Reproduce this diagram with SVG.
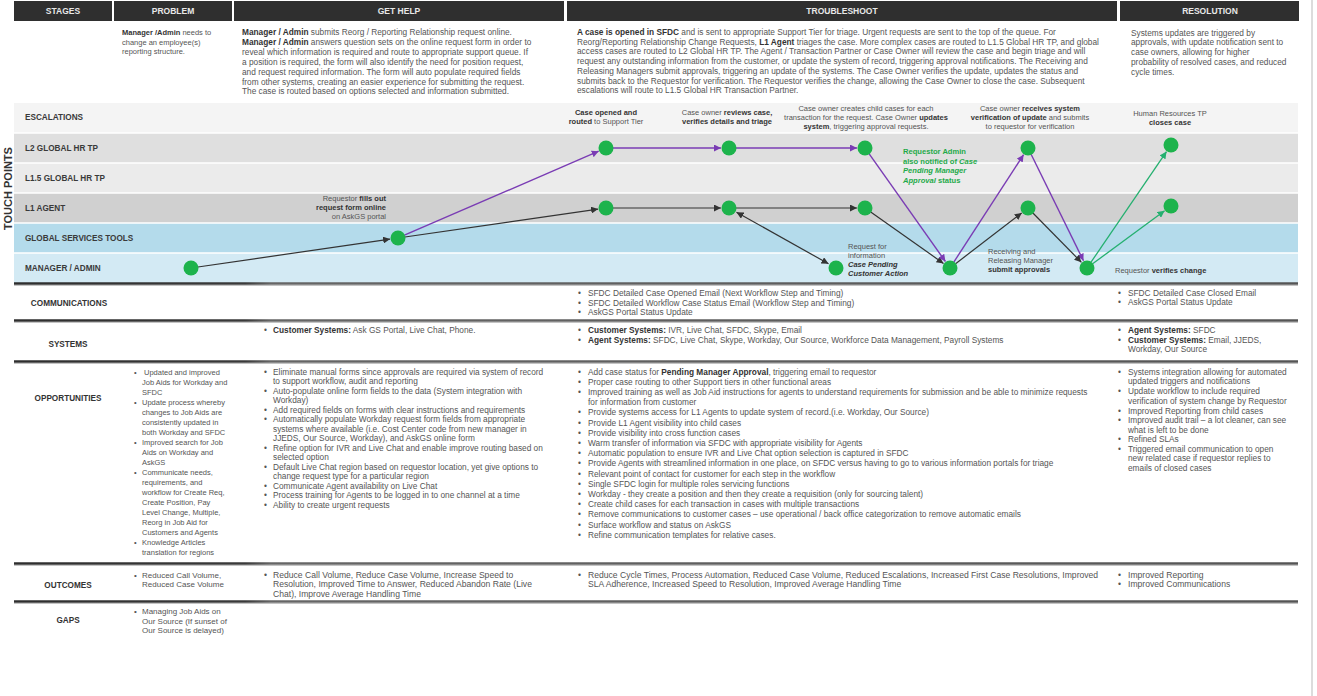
<svg xmlns="http://www.w3.org/2000/svg" width="1317" height="696" viewBox="0 0 1317 696">
<style>
text{font-family:"Liberation Sans",Arial,sans-serif;}
.t{font-size:8.3px;fill:#555}
.s{font-size:7.5px;fill:#555}
.b{font-weight:bold;fill:#333}
.i{font-style:italic}
.hd{font-size:8.5px;font-weight:bold;fill:#e8e8e8;text-anchor:middle}
.lane{font-size:8.2px;font-weight:bold;fill:#3a3a3a}
.row{font-size:8.2px;font-weight:bold;fill:#333;text-anchor:middle}
.c{text-anchor:middle}
.r{text-anchor:end}
.g{font-size:7.6px;font-weight:bold;fill:#1faa4a}
.o{font-size:8.6px;fill:#555}
.o2{font-size:8px;fill:#555}
.node{fill:#1db34c}
.k{stroke:#333;stroke-width:1.2;fill:none}
.p{stroke:#7a3cb4;stroke-width:1.4;fill:none}
.gr{stroke:#25b070;stroke-width:1.3;fill:none}
.div{stroke:url(#dg);stroke-width:2.4}
.div2{stroke:#c4c4c4;stroke-width:1}
</style>
<defs>
<marker id="ak" markerUnits="userSpaceOnUse" markerWidth="8" markerHeight="7" refX="7" refY="3.5" orient="auto-start-reverse"><path d="M0,0 L7,3.5 L0,7 z" fill="#333"/></marker>
<marker id="ap" markerUnits="userSpaceOnUse" markerWidth="8" markerHeight="7" refX="7" refY="3.5" orient="auto"><path d="M0,0 L7,3.5 L0,7 z" fill="#7a3cb4"/></marker>
<marker id="ag" markerUnits="userSpaceOnUse" markerWidth="8" markerHeight="7" refX="7" refY="3.5" orient="auto"><path d="M0,0 L7,3.5 L0,7 z" fill="#25b070"/></marker>
<linearGradient id="dg" gradientUnits="userSpaceOnUse" x1="14" y1="0" x2="1298" y2="0"><stop offset="0" stop-color="#2e2e2e"/><stop offset="0.18" stop-color="#3a3a3a"/><stop offset="0.2" stop-color="#666"/><stop offset="1" stop-color="#555"/></linearGradient>
</defs>

<rect width="1317" height="696" fill="#fff"/>
<line x1="1312" y1="0" x2="1312" y2="696" stroke="#d0d0d0" stroke-width="1.5"/>

<!-- header -->
<g id="header">
<rect x="14" y="1" width="98" height="20" fill="#2f2f2f"/>
<rect x="114" y="1" width="118" height="20" fill="#2f2f2f"/>
<rect x="234" y="1" width="330" height="20" fill="#2f2f2f"/>
<rect x="567" y="1" width="550" height="20" fill="#2f2f2f"/>
<rect x="1120" y="1" width="179" height="20" fill="#2f2f2f"/>
<text class="hd" x="63" y="14">STAGES</text>
<text class="hd" x="173" y="14">PROBLEM</text>
<text class="hd" x="399" y="14">GET HELP</text>
<text class="hd" x="842" y="14">TROUBLESHOOT</text>
<text class="hd" x="1210" y="14">RESOLUTION</text>
</g>

<!-- intro texts -->
<g id="intro">
<text class="s" x="122" y="35"><tspan class="b">Manager /Admin</tspan> needs to</text>
<text class="s" x="122" y="44.5">change an employee(s)</text>
<text class="s" x="122" y="54">reporting structure.</text>

<text class="t" x="242" y="35"><tspan class="b">Manager / Admin</tspan> submits Reorg / Reporting Relationship request online.</text>
<text class="t" x="242" y="45"><tspan class="b">Manager / Admin</tspan> answers question sets on the online request form in order to</text>
<text class="t" x="242" y="55">reveal which information is required and route to appropriate support queue. If</text>
<text class="t" x="242" y="65">a position is required, the form will also identify the need for position request,</text>
<text class="t" x="242" y="75">and request required information. The form will auto populate required fields</text>
<text class="t" x="242" y="84.5">from other systems, creating an easier experience for submitting the request.</text>
<text class="t" x="242" y="94">The case is routed based on options selected and information submitted.</text>

<text class="t" x="577" y="35"><tspan class="b">A case is opened in SFDC</tspan> and is sent to appropriate Support Tier for triage. Urgent requests are sent to the top of the queue. For</text>
<text class="t" x="577" y="44.5">Reorg/Reporting Relationship Change Requests, <tspan class="b">L1 Agent</tspan> triages the case. More complex cases are routed to L1.5 Global HR TP, and global</text>
<text class="t" x="577" y="54">access cases are routed to L2 Global HR TP. The Agent / Transaction Partner or Case Owner will review the case and begin triage and will</text>
<text class="t" x="577" y="64">request any outstanding information from the customer, or update the system of record, triggering approval notifications. The Receiving and</text>
<text class="t" x="577" y="74">Releasing Managers submit approvals, triggering an update of the systems. The Case Owner verifies the update, updates the status and</text>
<text class="t" x="577" y="83.5">submits back to the Requestor for verification. The Requestor verifies the change, allowing the Case Owner to close the case. Subsequent</text>
<text class="t" x="577" y="93">escalations will route to L1.5 Global HR Transaction Partner.</text>

<text class="t" x="1131" y="35.5">Systems updates are triggered by</text>
<text class="t" x="1131" y="45">approvals, with update notification sent to</text>
<text class="t" x="1131" y="54.5">case owners, allowing for higher</text>
<text class="t" x="1131" y="64.5">probability of resolved cases, and reduced</text>
<text class="t" x="1131" y="75">cycle times.</text>
</g>

<!-- lanes -->
<g id="lanes">
<rect x="14" y="103" width="1284" height="30" fill="#f4f4f4"/>
<rect x="14" y="133" width="1284" height="30" fill="#dfdfdf"/>
<rect x="14" y="163" width="1284" height="30" fill="#ebebeb"/>
<rect x="14" y="193" width="1284" height="30" fill="#d0d0d0"/>
<rect x="14" y="223" width="1284" height="30" fill="#b4dbeb"/>
<rect x="14" y="253" width="1284" height="30" fill="#d3eaf4"/>
<g stroke="#fff" stroke-width="1.3">
<line x1="14" y1="133" x2="1298" y2="133"/>
<line x1="14" y1="163" x2="1298" y2="163"/>
<line x1="14" y1="193" x2="1298" y2="193"/>
<line x1="14" y1="223" x2="1298" y2="223"/>
<line x1="14" y1="253" x2="1298" y2="253"/>
</g>
<text class="lane" x="25" y="120">ESCALATIONS</text>
<text class="lane" x="25" y="151">L2 GLOBAL HR TP</text>
<text class="lane" x="25" y="181">L1.5 GLOBAL HR TP</text>
<text class="lane" x="25" y="211">L1 AGENT</text>
<text class="lane" x="25" y="241">GLOBAL SERVICES TOOLS</text>
<text class="lane" x="25" y="271">MANAGER / ADMIN</text>
<text x="11.5" y="188.5" transform="rotate(-90 11.5 188.5)" text-anchor="middle" font-size="11" font-weight="bold" fill="#333">TOUCH POINTS</text>
</g>

<!-- connectors -->
<g id="connectors">
<line class="k" x1="197.9" y1="267" x2="390.1" y2="239.1" marker-end="url(#ak)"/>
<line class="p" x1="404.4" y1="235.2" x2="598.7" y2="151.2" marker-end="url(#ap)"/>
<line class="k" x1="404.9" y1="237" x2="598.1" y2="209.1" marker-end="url(#ak)"/>
<line class="p" x1="613" y1="148" x2="721" y2="148" marker-end="url(#ap)"/>
<line class="p" x1="736" y1="148" x2="857" y2="148" marker-end="url(#ap)"/>
<line class="k" x1="613" y1="208" x2="721" y2="208" marker-end="url(#ak)"/>
<line class="k" x1="736" y1="208" x2="857" y2="208" marker-end="url(#ak)"/>
<line class="k" x1="736.5" y1="212.2" x2="828.5" y2="263.8" marker-start="url(#ak)" marker-end="url(#ak)"/>
<line class="k" x1="870.7" y1="212" x2="943.5" y2="263.4" marker-end="url(#ak)"/>
<line class="p" x1="869" y1="153.7" x2="945.4" y2="261.5" marker-end="url(#ap)"/>
<line class="p" x1="953.8" y1="262.1" x2="1023.6" y2="154.7" marker-end="url(#ap)"/>
<line class="k" x1="955.6" y1="263.7" x2="1021.7" y2="212.9" marker-end="url(#ak)"/>
<line class="p" x1="1031.1" y1="154.3" x2="1083.5" y2="260.8" marker-end="url(#ap)"/>
<line class="k" x1="1032.9" y1="213" x2="1081.4" y2="262.3" marker-end="url(#ak)"/>
<line class="gr" x1="1091" y1="262.2" x2="1166.5" y2="151.6" marker-end="url(#ag)"/>
<line class="gr" x1="1092.6" y1="263.8" x2="1164.6" y2="210.8" marker-end="url(#ag)"/>
</g>

<!-- nodes -->
<g id="n-manager"><circle class="node" cx="191" cy="268" r="7.5"/></g>
<g id="n-tools"><circle class="node" cx="398" cy="238" r="7.5"/>
<text class="s r" x="386" y="200.5">Requestor <tspan class="b">fills out</tspan></text>
<text class="s r b" x="386" y="209.5">request form online</text>
<text class="s r" x="386" y="218.5">on AskGS portal</text></g>
<g id="n-open"><circle class="node" cx="606" cy="148" r="7.5"/><circle class="node" cx="606" cy="208" r="7.5"/>
<text class="s c b" x="606" y="114.5">Case opened and</text>
<text class="s c" x="606" y="123.5"><tspan class="b">routed</tspan> to Support Tier</text></g>
<g id="n-review"><circle class="node" cx="729" cy="148" r="7.5"/><circle class="node" cx="729" cy="208" r="7.5"/>
<text class="s c" x="727" y="114.5">Case owner <tspan class="b">reviews case,</tspan></text>
<text class="s c b" x="727" y="123.5">verifies details and triage</text></g>
<g id="n-child"><circle class="node" cx="865" cy="148" r="7.5"/><circle class="node" cx="865" cy="208" r="7.5"/>
<text class="s c" x="866" y="110.5">Case owner creates child cases for each</text>
<text class="s c" x="866" y="119.5">transaction for the request. Case Owner <tspan class="b">updates</tspan></text>
<text class="s c" x="866" y="128.5"><tspan class="b">system</tspan>, triggering approval requests.</text></g>
<g id="n-pending"><circle class="node" cx="836" cy="268" r="7.5"/>
<text class="s" x="848" y="248.5">Request for</text>
<text class="s" x="848" y="257.5">information</text>
<text class="s b i" x="848" y="266.5">Case Pending</text>
<text class="s b i" x="848" y="275.5">Customer Action</text></g>
<g id="n-approve"><circle class="node" cx="950" cy="268" r="7.5"/>
<text class="g" x="903" y="154">Requestor Admin</text>
<text class="g" x="903" y="163.5">also notified of <tspan class="i">Case</tspan></text>
<text class="g i" x="903" y="173">Pending Manager</text>
<text class="g" x="903" y="182.5"><tspan class="i">Approval</tspan> status</text>
<text class="s" x="988" y="253.5">Receiving and</text>
<text class="s" x="988" y="262.5">Releasing Manager</text>
<text class="s b" x="988" y="271.5">submit approvals</text></g>
<g id="n-verify"><circle class="node" cx="1028" cy="148" r="7.5"/><circle class="node" cx="1028" cy="208" r="7.5"/>
<text class="s c" x="1030" y="110.5">Case owner <tspan class="b">receives system</tspan></text>
<text class="s c" x="1030" y="119.5"><tspan class="b">verification of update</tspan> and submits</text>
<text class="s c" x="1030" y="128.5">to requestor for verification</text></g>
<g id="n-requestor"><circle class="node" cx="1087" cy="268" r="7.5"/>
<text class="s" x="1115" y="272.5">Requestor <tspan class="b">verifies change</tspan></text></g>
<g id="n-close"><circle class="node" cx="1171" cy="145" r="7.5"/><circle class="node" cx="1171" cy="206" r="7.5"/>
<text class="s c" x="1170" y="115.5">Human Resources TP</text>
<text class="s c b" x="1170" y="124.5">closes case</text></g>

<!-- dividers -->
<g id="dividers">
<line class="div" x1="14" y1="283.5" x2="1298" y2="283.5"/>
<line class="div2" x1="14" y1="285.5" x2="1298" y2="285.5"/>
<line class="div" x1="14" y1="320.5" x2="1298" y2="320.5"/>
<line class="div2" x1="14" y1="322.5" x2="1298" y2="322.5"/>
<line class="div" x1="14" y1="361.5" x2="1298" y2="361.5"/>
<line class="div2" x1="14" y1="363.5" x2="1298" y2="363.5"/>
<line class="div" x1="14" y1="563.5" x2="1298" y2="563.5"/>
<line class="div2" x1="14" y1="565.5" x2="1298" y2="565.5"/>
<line class="div" x1="14" y1="601.5" x2="1298" y2="601.5"/>
<line class="div2" x1="14" y1="603.5" x2="1298" y2="603.5"/>
</g>

<!-- communications -->
<g id="communications">
<text class="row" x="69" y="306">COMMUNICATIONS</text>
<text class="t" x="578" y="296">•</text><text class="t" x="588" y="296">SFDC Detailed Case Opened Email (Next Workflow Step and Timing)</text>
<text class="t" x="578" y="305.5">•</text><text class="t" x="588" y="305.5">SFDC Detailed Workflow Case Status Email (Workflow Step and Timing)</text>
<text class="t" x="578" y="315">•</text><text class="t" x="588" y="315">AskGS Portal Status Update</text>
<text class="t" x="1118" y="296">•</text><text class="t" x="1128" y="296">SFDC Detailed Case Closed Email</text>
<text class="t" x="1118" y="305">•</text><text class="t" x="1128" y="305">AskGS Portal Status Update</text>
</g>

<!-- systems -->
<g id="systems">
<text class="row" x="68" y="347">SYSTEMS</text>
<text class="t" x="264" y="333">•</text><text class="t" x="273" y="333"><tspan class="b">Customer Systems:</tspan> Ask GS Portal, Live Chat, Phone.</text>
<text class="t" x="578" y="333">•</text><text class="t" x="588" y="333"><tspan class="b">Customer Systems:</tspan> IVR, Live Chat, SFDC, Skype, Email</text>
<text class="t" x="578" y="342.5">•</text><text class="t" x="588" y="342.5"><tspan class="b">Agent Systems:</tspan> SFDC, Live Chat,  Skype, Workday, Our Source, Workforce Data Management, Payroll Systems</text>
<text class="t" x="1118" y="333">•</text><text class="t" x="1128" y="333"><tspan class="b">Agent Systems:</tspan> SFDC</text>
<text class="t" x="1118" y="342.5">•</text><text class="t" x="1128" y="342.5"><tspan class="b">Customer Systems:</tspan> Email, JJEDS,</text>
<text class="t" x="1128" y="352">Workday, Our Source</text>
</g>

<!-- opportunities -->
<g id="opportunities">
<text class="row" x="68" y="401">OPPORTUNITIES</text>
<g class="s">
<text x="134" y="374.5">•</text><text x="144" y="374.5">Updated and improved</text>
<text x="142" y="384.5">Job Aids for Workday and</text>
<text x="142" y="394.5">SFDC</text>
<text x="134" y="404.5">•</text><text x="142" y="404.5">Update process whereby</text>
<text x="142" y="414.5">changes to Job Aids are</text>
<text x="142" y="424.5">consistently updated in</text>
<text x="142" y="434.5">both Workday and SFDC</text>
<text x="134" y="444.5">•</text><text x="142" y="444.5">Improved search for Job</text>
<text x="142" y="454.5">Aids on Workday and</text>
<text x="142" y="464.5">AskGS</text>
<text x="134" y="474.5">•</text><text x="142" y="474.5">Communicate needs,</text>
<text x="142" y="484.5">requirements, and</text>
<text x="142" y="494.5">workflow for Create Req,</text>
<text x="142" y="504.5">Create Position, Pay</text>
<text x="142" y="514.5">Level Change, Multiple,</text>
<text x="142" y="524.5">Reorg in Job Aid for</text>
<text x="142" y="534.5">Customers and Agents</text>
<text x="134" y="544.5">•</text><text x="142" y="544.5">Knowledge Articles</text>
<text x="142" y="554.5">translation for regions</text>
</g>
<g class="t">
<text x="264" y="374.5">•</text><text x="273" y="374.5">Eliminate manual forms since approvals are required via system of record</text>
<text x="273" y="384">to support workflow, audit and reporting</text>
<text x="264" y="393.5">•</text><text x="273" y="393.5">Auto-populate online form fields to the data (System integration with</text>
<text x="273" y="403">Workday)</text>
<text x="264" y="412.5">•</text><text x="273" y="412.5">Add required fields on forms with clear instructions and requirements</text>
<text x="264" y="422">•</text><text x="273" y="422">Automatically populate Workday request form fields from appropriate</text>
<text x="273" y="431.5">systems where available (i.e. Cost Center code from new manager in</text>
<text x="273" y="441">JJEDS, Our Source, Workday), and AskGS online form</text>
<text x="264" y="450.5">•</text><text x="273" y="450.5">Refine option for IVR and Live Chat and enable improve routing based on</text>
<text x="273" y="460">selected option</text>
<text x="264" y="469.5">•</text><text x="273" y="469.5">Default Live Chat region based on requestor location, yet give options to</text>
<text x="273" y="479">change request type for a particular region</text>
<text x="264" y="488.5">•</text><text x="273" y="488.5">Communicate Agent availability on Live Chat</text>
<text x="264" y="498">•</text><text x="273" y="498">Process training for Agents to be logged in to one channel at a time</text>
<text x="264" y="507.5">•</text><text x="273" y="507.5">Ability to create urgent requests</text>
</g>
<g class="t">
<text x="578" y="374.5">•</text><text x="588" y="374.5">Add case status for <tspan class="b">Pending Manager Approval</tspan>, triggering email to requestor</text>
<text x="578" y="384.7">•</text><text x="588" y="384.7">Proper case routing to other Support tiers in other functional areas</text>
<text x="578" y="394.9">•</text><text x="588" y="394.9">Improved training as well as Job Aid instructions for agents to understand requirements for submission and be able to minimize requests</text>
<text x="588" y="405.1">for information from customer</text>
<text x="578" y="415.3">•</text><text x="588" y="415.3">Provide systems access for L1 Agents to update system of record.(i.e. Workday, Our Source)</text>
<text x="578" y="425.5">•</text><text x="588" y="425.5">Provide L1 Agent visibility into child cases</text>
<text x="578" y="435.7">•</text><text x="588" y="435.7">Provide visibility into cross function cases</text>
<text x="578" y="445.9">•</text><text x="588" y="445.9">Warm transfer of information via SFDC with appropriate visibility for Agents</text>
<text x="578" y="456.1">•</text><text x="588" y="456.1">Automatic population to ensure IVR and Live Chat option selection is captured in SFDC</text>
<text x="578" y="466.3">•</text><text x="588" y="466.3">Provide Agents with streamlined information in one place, on SFDC versus having to go to various information portals for triage</text>
<text x="578" y="476.5">•</text><text x="588" y="476.5">Relevant point of contact for customer for each step in the workflow</text>
<text x="578" y="486.7">•</text><text x="588" y="486.7">Single SFDC login for multiple roles servicing functions</text>
<text x="578" y="496.9">•</text><text x="588" y="496.9">Workday - they create a position and then they create a requisition (only for sourcing talent)</text>
<text x="578" y="507.1">•</text><text x="588" y="507.1">Create child cases for each transaction in cases with multiple transactions</text>
<text x="578" y="517.3">•</text><text x="588" y="517.3">Remove communications to customer cases – use operational / back office categorization to remove automatic emails</text>
<text x="578" y="527.5">•</text><text x="588" y="527.5">Surface workflow and status on AskGS</text>
<text x="578" y="537.7">•</text><text x="588" y="537.7">Refine communication templates for relative cases.</text>
</g>
<g class="t">
<text x="1118" y="374.5">•</text><text x="1128" y="374.5">Systems integration allowing for automated</text>
<text x="1128" y="384">updated triggers and notifications</text>
<text x="1118" y="394">•</text><text x="1128" y="394">Update workflow to include required</text>
<text x="1128" y="403.5">verification of system change by Requestor</text>
<text x="1118" y="413.5">•</text><text x="1128" y="413.5">Improved Reporting from child cases</text>
<text x="1118" y="423">•</text><text x="1128" y="423">Improved audit trail – a lot cleaner, can see</text>
<text x="1128" y="432.5">what is left  to be done</text>
<text x="1118" y="442">•</text><text x="1128" y="442">Refined SLAs</text>
<text x="1118" y="451.5">•</text><text x="1128" y="451.5">Triggered email communication to open</text>
<text x="1128" y="461">new related case if requestor replies to</text>
<text x="1128" y="470.5">emails of closed cases</text>
</g>
</g>

<!-- outcomes -->
<g id="outcomes">
<text class="row" x="68" y="588">OUTCOMES</text>
<g class="o2">
<text x="134" y="577.5">•</text><text x="142" y="577.5">Reduced Call Volume,</text>
<text x="142" y="587">Reduced Case Volume</text>
</g>
<g class="o">
<text x="264" y="577.5">•</text><text x="273" y="577.5">Reduce Call Volume, Reduce Case Volume, Increase Speed to</text>
<text x="273" y="587">Resolution, Improved Time to Answer, Reduced Abandon Rate (Live</text>
<text x="273" y="596.5">Chat), Improve Average Handling Time</text>
<text x="578" y="577.5">•</text><text x="588" y="577.5">Reduce Cycle Times, Process Automation, Reduced Case Volume, Reduced Escalations, Increased First Case Resolutions, Improved</text>
<text x="588" y="587">SLA Adherence, Increased Speed to Resolution, Improved Average Handling Time</text>
<text x="1118" y="577.5">•</text><text x="1128" y="577.5">Improved Reporting</text>
<text x="1118" y="587">•</text><text x="1128" y="587">Improved Communications</text>
</g>
</g>

<!-- gaps -->
<g id="gaps">
<text class="row" x="68" y="623">GAPS</text>
<g class="o2">
<text x="134" y="614">•</text><text x="142" y="614">Managing Job Aids on</text>
<text x="142" y="623.5">Our Source (If sunset of</text>
<text x="142" y="633">Our Source is delayed)</text>
</g>
</g>
</svg>
